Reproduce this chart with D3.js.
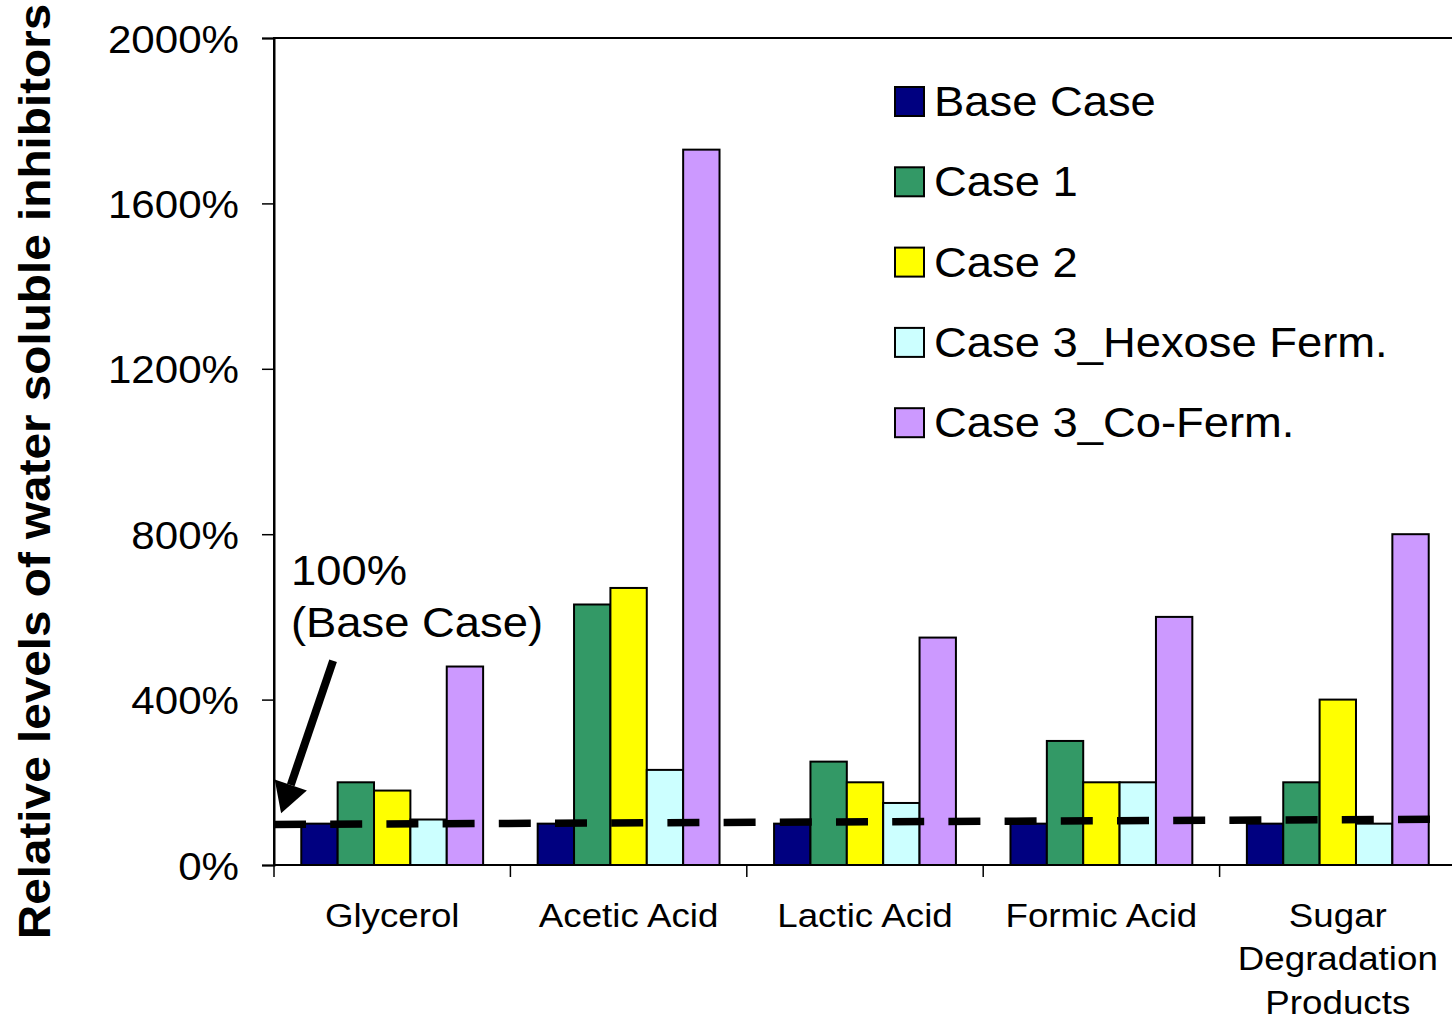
<!DOCTYPE html>
<html>
<head>
<meta charset="utf-8">
<script src="https://cdn.jsdelivr.net/npm/d3@7"></script>
<style>
  html, body { margin: 0; padding: 0; background: #fff; overflow: hidden; }
  svg { display: block; }
  text { font-family: "Liberation Sans", Arial, Helvetica, sans-serif; fill: #000; }
</style>
</head>
<body>
<svg id="chart" width="1452" height="1021"></svg>
<script>
// Inhibitor categories (multi-line labels split on "\n")
const categories = ["Glycerol", "Acetic Acid", "Lactic Acid", "Formic Acid", "Sugar\nDegradation\nProducts"];

// Process cases shown in the legend
const seriesNames = ["Base Case", "Case 1", "Case 2", "Case 3_Hexose Ferm.", "Case 3_Co-Ferm."];
const seriesColors = ["#000080", "#339966", "#FFFF00", "#CCFFFF", "#CC99FF"];

// Relative levels (% of base case), one array per case, in category order
const baseCase   = [100, 100, 100, 100, 100];
const case1      = [200, 630, 250, 300, 200];
const case2      = [180, 670, 200, 200, 400];
const case3Hex   = [110, 230, 150, 200, 100];
const case3CoFer = [480, 1730, 550, 600, 800];
const seriesValues = [baseCase, case1, case2, case3Hex, case3CoFer];

// Y axis ticks
const yTicks = [0, 400, 800, 1200, 1600, 2000];

// Hand-drawn 100% reference line (start / end level, slightly sloped)
const refLine = [{ pos: 0, v: 98 }, { pos: 4.9, v: 110.5 }];

const svg = d3.select("#chart");
const plot = { left: 274, right: 1456, top: 38, bottom: 865 };
const sx = 1.08; // horizontal glyph stretch of the exported fonts

const x0 = d3.scaleBand().domain(d3.range(categories.length))
  .range([plot.left, plot.right]).paddingInner(0).paddingOuter(0);
const x1 = d3.scaleBand().domain(d3.range(seriesNames.length))
  .range([0, x0.bandwidth()]).paddingInner(0).paddingOuter(0.75);
const xLin = d3.scaleLinear().domain([0, categories.length]).range([plot.left, plot.right]);
const y = d3.scaleLinear().domain([0, 2000]).range([plot.bottom, plot.top]);

// Plot area frame
svg.append("rect")
  .attr("x", plot.left).attr("y", plot.top)
  .attr("width", plot.right - plot.left).attr("height", plot.bottom - plot.top)
  .attr("fill", "none").attr("stroke", "#000").attr("stroke-width", 2);

// Bars
const groups = svg.append("g").selectAll("g")
  .data(categories.map((c, i) => i))
  .join("g")
  .attr("transform", i => `translate(${x0(i)},0)`);

groups.selectAll("rect")
  .data(i => seriesValues.map((vals, s) => ({ s, v: vals[i] })))
  .join("rect")
  .attr("x", d => x1(d.s))
  .attr("y", d => y(d.v))
  .attr("width", x1.bandwidth())
  .attr("height", d => y(0) - y(d.v))
  .attr("fill", d => seriesColors[d.s])
  .attr("stroke", "#000")
  .attr("stroke-width", 2);

// Dashed 100% base-case reference line
svg.append("path")
  .datum(refLine)
  .attr("d", d3.line().x(d => xLin(d.pos)).y(d => y(d.v)))
  .attr("fill", "none")
  .attr("stroke", "#000")
  .attr("stroke-width", 7.5)
  .attr("stroke-dasharray", "32,24.2");

// Y axis
const yAxis = svg.append("g")
  .attr("transform", `translate(${plot.left},0)`)
  .call(d3.axisLeft(y).tickValues(yTicks).tickFormat(d => d + "%").tickSize(12).tickPadding(24));
yAxis.select(".domain").attr("stroke", "#000").attr("stroke-width", 2);
yAxis.selectAll(".tick line").attr("stroke", "#000").attr("stroke-width", 1.5);
yAxis.selectAll(".tick text")
  .attr("font-size", 39)
  .attr("x", -35 / sx)
  .attr("dy", "0.36em")
  .attr("transform", `scale(${sx},1)`)
  .style("font-family", '"Liberation Sans", Arial, sans-serif');

// X axis (ticks at category boundaries)
const xa = svg.append("g");
xa.append("line")
  .attr("x1", plot.left).attr("x2", plot.right)
  .attr("y1", plot.bottom).attr("y2", plot.bottom)
  .attr("stroke", "#000").attr("stroke-width", 2);
xa.selectAll("line.tk")
  .data(d3.range(categories.length + 1))
  .join("line").attr("class", "tk")
  .attr("x1", i => xLin(i)).attr("x2", i => xLin(i))
  .attr("y1", plot.bottom).attr("y2", plot.bottom + 12)
  .attr("stroke", "#000").attr("stroke-width", 1.5);

const catLabels = xa.selectAll("text.cat")
  .data(categories)
  .join("text").attr("class", "cat")
  .attr("transform", (c, i) => `translate(${x0(i) + x0.bandwidth() / 2},927) scale(${sx},1)`)
  .attr("text-anchor", "middle")
  .attr("font-size", 34);
catLabels.selectAll("tspan")
  .data(c => c.split("\n"))
  .join("tspan")
  .attr("x", 0)
  .attr("dy", (t, k) => k === 0 ? 0 : 43.5)
  .text(t => t);

// Y axis title
svg.append("text")
  .attr("transform", `translate(50,471.5) rotate(-90) scale(1.06,1)`)
  .attr("text-anchor", "middle")
  .attr("font-size", 45)
  .attr("font-weight", "bold")
  .text("Relative levels of water soluble inhibitors");

// Legend
const legend = svg.append("g").attr("transform", "translate(895,116)");
const li = legend.selectAll("g")
  .data(seriesNames)
  .join("g")
  .attr("transform", (n, i) => `translate(0,${i * 80.3})`);
li.append("rect")
  .attr("x", 0).attr("y", -29)
  .attr("width", 29).attr("height", 29)
  .attr("fill", (n, i) => seriesColors[i])
  .attr("stroke", "#000").attr("stroke-width", 2);
li.append("text")
  .attr("transform", `translate(39,0) scale(${sx},1)`)
  .attr("font-size", 42)
  .text(n => n);

// Annotation: 100% (Base Case) with arrow
const ann = svg.append("g");
ann.append("text")
  .attr("transform", `translate(291,585) scale(${sx},1)`)
  .attr("font-size", 42)
  .text("100%");
ann.append("text")
  .attr("transform", `translate(291,637) scale(${sx},1)`)
  .attr("font-size", 42)
  .text("(Base Case)");

const tail = [xLin(0.25), y(494)];
const tip = [xLin(0.03), y(125)];
const ang = Math.atan2(tip[1] - tail[1], tip[0] - tail[0]);
const headLen = 30, headHalf = 17;
const base = [tip[0] - headLen * Math.cos(ang), tip[1] - headLen * Math.sin(ang)];
ann.append("line")
  .attr("x1", tail[0]).attr("y1", tail[1])
  .attr("x2", base[0]).attr("y2", base[1])
  .attr("stroke", "#000").attr("stroke-width", 8);
ann.append("path")
  .attr("d", d3.line()([
    tip,
    [base[0] + headHalf * Math.sin(ang), base[1] - headHalf * Math.cos(ang)],
    [base[0] - headHalf * Math.sin(ang), base[1] + headHalf * Math.cos(ang)]
  ]) + "Z")
  .attr("fill", "#000");
</script>
</body>
</html>
